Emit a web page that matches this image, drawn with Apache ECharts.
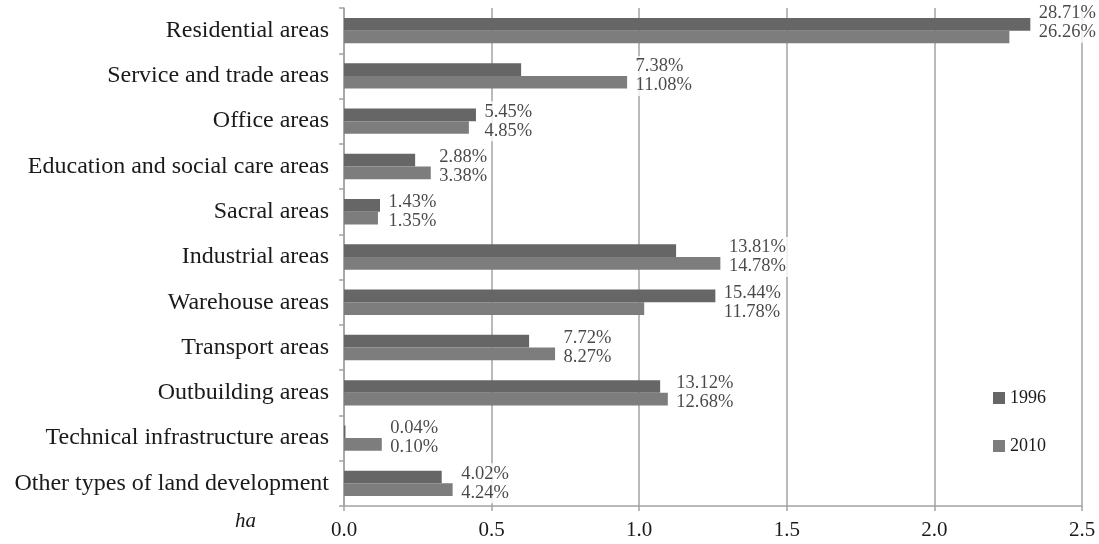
<!DOCTYPE html>
<html>
<head>
<meta charset="utf-8">
<script src="https://cdn.jsdelivr.net/npm/echarts@6/dist/echarts.min.js"></script>
<style>
html,body{margin:0;padding:0;background:#fff;}
#main{width:1099px;height:544px;}
</style>
</head>
<body>
<div id="main"></div>
<script>
// land use categories, top to bottom
var categories = [
	"Residential areas",
	"Service and trade areas",
	"Office areas",
	"Education and social care areas",
	"Sacral areas",
	"Industrial areas",
	"Warehouse areas",
	"Transport areas",
	"Outbuilding areas",
	"Technical infrastructure areas",
	"Other types of land development"
];
// area in ha
var values1996 = [2.325, 0.600, 0.447, 0.241, 0.122, 1.125, 1.258, 0.627, 1.071, 0.005, 0.331];
var values2010 = [2.254, 0.959, 0.423, 0.294, 0.115, 1.275, 1.017, 0.715, 1.097, 0.128, 0.368];
// share labels
var share1996 = ["28.71%", "7.38%", "5.45%", "2.88%", "1.43%", "13.81%", "15.44%", "7.72%", "13.12%", "0.04%", "4.02%"];
var share2010 = ["26.26%", "11.08%", "4.85%", "3.38%", "1.35%", "14.78%", "11.78%", "8.27%", "12.68%", "0.10%", "4.24%"];
var xTicks = [0, 0.5, 1.0, 1.5, 2.0, 2.5];

var FONT = "Liberation Serif";
var TEXT = "#1a1a1a";
var GRID_COLOR = "#a3a3a3";

// label anchor = end of the longer bar of each pair
var labelData = [];
for (var i = 0; i < categories.length; i++) {
	var item = {
		value: [Math.max(values1996[i], values2010[i]), categories[i]],
		txt: share1996[i] + "\n" + share2010[i]
	};
	// top pair sits a bit higher in the original
	if (i == 0) item.label = { offset: [0, -8] };
	labelData.push(item);
}

var myChart = echarts.init(document.getElementById("main"));
var option = {
	animation: false,
	textStyle: { fontFamily: FONT, color: TEXT },
	grid: { left: 344, right: 17, top: 8, bottom: 38, containLabel: false },
	legend: {
		data: ["1996", "2010"],
		orient: "vertical",
		left: 988,
		top: 384,
		itemGap: 30,
		itemWidth: 12,
		itemHeight: 12,
		icon: "rect",
		itemStyle: { borderWidth: 0 },
		textStyle: { fontFamily: FONT, fontSize: 18, color: TEXT }
	},
	xAxis: {
		type: "value",
		min: xTicks[0],
		max: xTicks[xTicks.length - 1],
		interval: 0.5,
		name: "ha",
		nameLocation: "start",
		nameGap: 88,
		nameTextStyle: { fontFamily: FONT, fontStyle: "italic", fontSize: 21, color: TEXT, verticalAlign: "top", padding: [5, 0, 0, 0] },
		axisLine: { show: true, lineStyle: { color: GRID_COLOR, width: 1.5 } },
		axisTick: { show: true, length: 5, lineStyle: { color: GRID_COLOR, width: 1.5 } },
		axisLabel: {
			fontFamily: FONT, fontSize: 21, color: TEXT, margin: 14,
			formatter: function (v) { return v.toFixed(1); }
		},
		splitLine: { show: true, lineStyle: { color: GRID_COLOR, width: 1.5 } }
	},
	yAxis: {
		type: "category",
		data: categories,
		inverse: true,
		axisLine: { show: true, lineStyle: { color: GRID_COLOR, width: 1.5 } },
		axisTick: { show: true, length: 5, alignWithLabel: false, lineStyle: { color: GRID_COLOR, width: 1.5 } },
		axisLabel: { fontFamily: FONT, fontSize: 24, color: TEXT, margin: 15 },
		splitLine: { show: false }
	},
	series: [
		{
			name: "1996",
			type: "bar",
			data: values1996,
			barGap: "0%",
			barCategoryGap: "44%",
			itemStyle: { color: "#666666" }
		},
		{
			name: "2010",
			type: "bar",
			data: values2010,
			itemStyle: { color: "#7d7d7d" }
		},
		{
			name: "labels",
			type: "scatter",
			data: labelData,
			symbolSize: 1,
			itemStyle: { color: "rgba(0,0,0,0)" },
			silent: true,
			z: 5,
			label: {
				show: true,
				position: "right",
				distance: 4,
				fontFamily: FONT,
				fontSize: 18.5,
				lineHeight: 19,
				color: TEXT,
				backgroundColor: "#fff",
				padding: [1, 4, 1, 4],
				formatter: function (p) { return p.data.txt; }
			}
		}
	]
};
myChart.setOption(option);
</script>
</body>
</html>
